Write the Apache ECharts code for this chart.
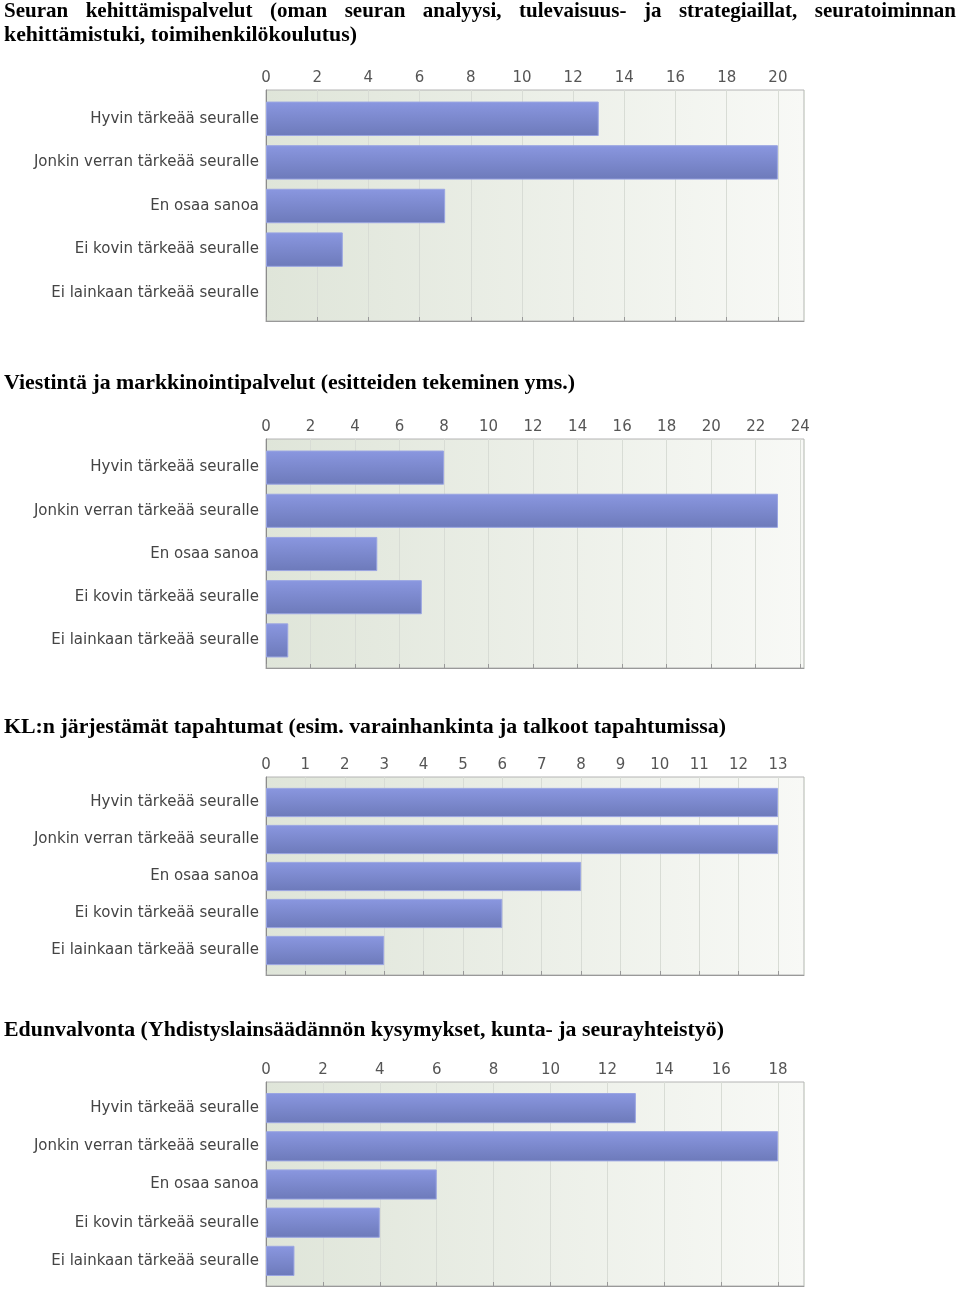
<!DOCTYPE html>
<html><head><meta charset="utf-8">
<script src="https://cdn.jsdelivr.net/npm/echarts@6/dist/echarts.min.js"></script>
<style>html,body{margin:0;padding:0;background:#fff}#c{width:960px;height:1293px}</style>
</head><body><div id="c"></div>
<script>
// ---- data ----
const categories = ["Hyvin tärkeää seuralle", "Jonkin verran tärkeää seuralle", "En osaa sanoa", "Ei kovin tärkeää seuralle", "Ei lainkaan tärkeää seuralle"];
const title1Line1 = "Seuran kehittämispalvelut (oman seuran analyysi, tulevaisuus- ja strategiaillat, seuratoiminnan";
const title1Line2 = "kehittämistuki, toimihenkilökoulutus)";
const title2 = "Viestintä ja markkinointipalvelut (esitteiden tekeminen yms.)";
const title3 = "KL:n järjestämät tapahtumat (esim. varainhankinta ja talkoot tapahtumissa)";
const title4 = "Edunvalvonta (Yhdistyslainsäädännön kysymykset, kunta- ja seurayhteistyö)";
const values1 = [13, 20, 7, 3, 0];
const values2 = [8, 23, 5, 7, 1];
const values3 = [13, 13, 8, 6, 3];
const values4 = [13, 18, 6, 4, 1];
const axisMax = [21.02, 24.17, 13.66, 18.91];
const axisStep = [2, 2, 1, 2];

// ---- layout ----
const allValues = [values1, values2, values3, values4];
const plotTop = [90, 439, 777, 1082];
const plotBottom = [321, 668, 975, 1286];
const plotLeft = 266, plotRight = 804;
const titleFont = 'bold 21px "Liberation Serif"';

const mctx = document.createElement('canvas').getContext('2d');
mctx.font = titleFont;
const tw = s => mctx.measureText(s).width;

const graphics = [];
function scaledTitle(text, x, y, targetW) {
  graphics.push({ type: 'text', x: x, y: y, scaleX: targetW / tw(text), scaleY: 1,
    style: { text: text, x: 0, y: 0, fill: '#000', font: titleFont, verticalAlign: 'middle', align: 'left' } });
}
// justified first line
(function () {
  const words = title1Line1.split(' ');
  const total = words.reduce((a, w) => a + tw(w), 0);
  const gap = (952 - total) / (words.length - 1);
  let x = 4;
  words.forEach(w => {
    graphics.push({ type: 'text', x: x, y: 12, style: { text: w, x: 0, y: 0, fill: '#000', font: titleFont, verticalAlign: 'middle', align: 'left' } });
    x += tw(w) + gap;
  });
})();
scaledTitle(title1Line2, 4, 36, 353);
scaledTitle(title2, 4, 384, 571);
scaledTitle(title3, 4, 728, 722);
scaledTitle(title4, 4, 1031, 720);

const grid = [], xAxis = [], yAxis = [], series = [];
const bg = { type: 'linear', x: 0, y: 0, x2: 1, y2: 0, colorStops: [{ offset: 0, color: '#dfe5d9' }, { offset: 1, color: '#f8f9f6' }] };
const barGrad = { type: 'linear', x: 0, y: 0, x2: 0, y2: 1, colorStops: [{ offset: 0, color: '#8a97e0' }, { offset: 1, color: '#6d7aba' }] };
for (let i = 0; i < 4; i++) {
  const t = plotTop[i], b = plotBottom[i];
  // outer frame grid
  grid.push({ left: plotLeft, width: plotRight - plotLeft, top: t, height: b - t, show: true, backgroundColor: bg, borderColor: '#b4b4b4', borderWidth: 1 });
  // inner bars grid
  grid.push({ left: plotLeft, width: plotRight - plotLeft, top: t + 7, height: b - t - 13 });
  xAxis.push({ gridIndex: 2 * i, type: 'value', position: 'top', min: 0, max: axisMax[i], interval: axisStep[i],
    axisLine: { show: true, lineStyle: { color: '#999' } },
    axisTick: { show: true, length: 4, lineStyle: { color: '#999' } },
    axisLabel: { show: true, showMaxLabel: false, margin: 4, color: '#555', fontFamily: 'DejaVu Sans', fontSize: 15 },
    splitLine: { show: true, lineStyle: { color: '#d8dcd5', width: 1 } } });
  xAxis.push({ gridIndex: 2 * i + 1, type: 'value', min: 0, max: axisMax[i], show: false });
  yAxis.push({ gridIndex: 2 * i, type: 'value', min: 0, max: 1,
    axisLine: { show: true, lineStyle: { color: '#8c8c8c' } }, axisTick: { show: false }, axisLabel: { show: false }, splitLine: { show: false } });
  yAxis.push({ gridIndex: 2 * i + 1, type: 'category', inverse: true, data: categories,
    axisLine: { show: false }, axisTick: { show: false },
    axisLabel: { margin: 7, color: '#444', fontFamily: 'DejaVu Sans', fontSize: 15, padding: [3, 0, 0, 0] } });
  series.push({ type: 'bar', xAxisIndex: 2 * i + 1, yAxisIndex: 2 * i + 1, barCategoryGap: '21%',
    data: allValues[i].map(v => v === 0 ? { value: v, itemStyle: { borderWidth: 0 } } : v),
    itemStyle: { color: barGrad, borderColor: '#9aa5e2', borderWidth: 1 }, silent: true });
}

const chart = echarts.init(document.getElementById('c'), null, { renderer: 'canvas' });
chart.setOption({ animation: false, grid, xAxis, yAxis, series, graphic: graphics });
</script></body></html>
